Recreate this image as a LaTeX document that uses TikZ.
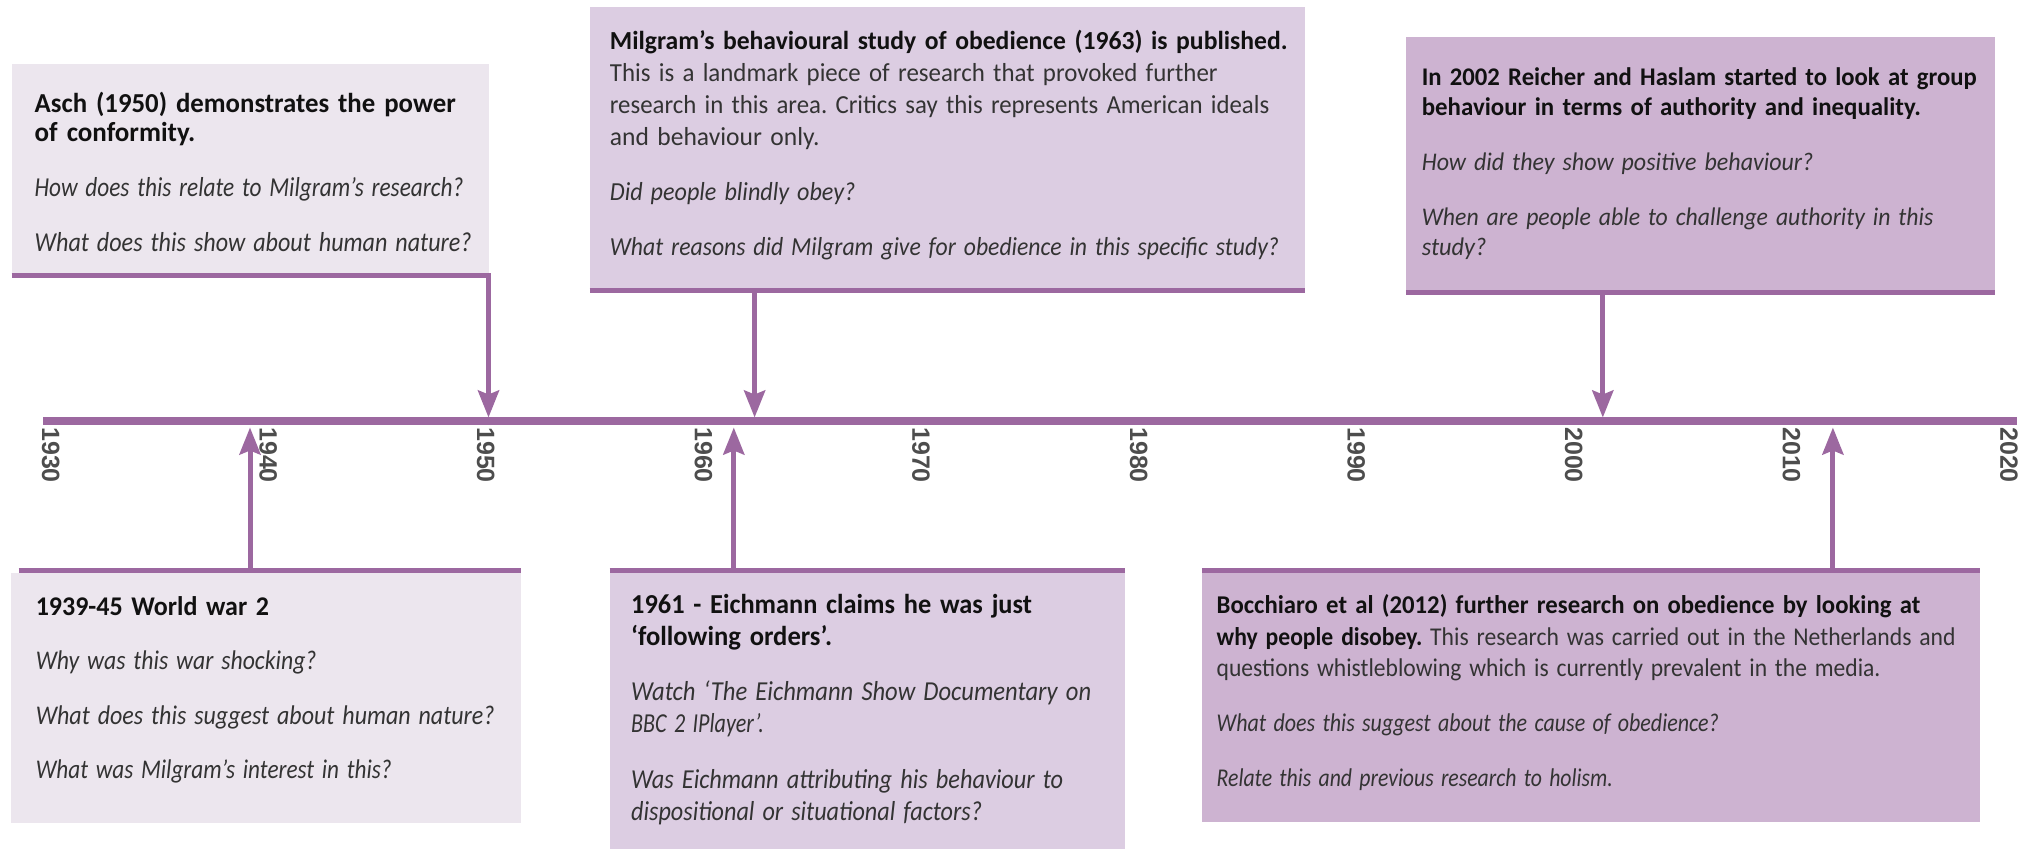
\documentclass[tikz,border=0pt]{standalone}
\usepackage{fontspec}
\usepackage{graphicx}
\setmainfont{Carlito}
\newfontfamily\yearfont{Liberation Sans}
\frenchspacing
\usetikzlibrary{arrows.meta}
\definecolor{tlc}{HTML}{9C68A0}
\definecolor{fillA}{HTML}{ECE6EE}
\definecolor{fillB}{HTML}{DCCDE2}
\definecolor{fillC}{HTML}{CDB3D1}
\definecolor{bodyc}{HTML}{333333}
\definecolor{headc}{HTML}{111111}
\definecolor{yearc}{HTML}{4D4D4D}
\newcommand\hd[1]{{\color{headc}\bfseries #1}}
% one line of text, fitted to the width it has in the reference
\newcommand\fl[2]{\resizebox{#1pt}{\height}{#2}}
\lineskiplimit=-100pt
\tikzset{
  tline/.style={draw=tlc, line width=7.3pt},
  edge/.style={draw=tlc, line width=5.5pt},
  conn/.style={draw=tlc, line width=5pt, -{Stealth[length=27pt,width=21pt,inset=4pt]}},
  evbox/.style={draw=none, inner sep=0pt, outer sep=0pt, anchor=north west},
  txt/.style={inner sep=0pt, anchor=base west, align=left, text width=900pt, text=bodyc},
  yr/.style={inner sep=0pt, anchor=base west, rotate=-90, text=yearc, font=\yearfont\bfseries\fontsize{25}{30}\selectfont},
}
\begin{document}
\begin{tikzpicture}[x=1pt,y=-1pt]
\useasboundingbox (0,0) rectangle (2033,849);

% boxes
\node[evbox, fill=fillA, minimum width=477.5pt, minimum height=209pt] (aschbox) at (11.5,64) {};
\node[evbox, fill=fillB, minimum width=715.4pt, minimum height=281pt] (milbox) at (589.6,7) {};
\node[evbox, fill=fillC, minimum width=588.9pt, minimum height=252.7pt] (reibox) at (1405.8,37.3) {};
\node[evbox, fill=fillA, minimum width=510pt, minimum height=249.7pt] (wwbox) at (11,573) {};
\node[evbox, fill=fillB, minimum width=515.1pt, minimum height=276pt] (eicbox) at (609.5,573) {};
\node[evbox, fill=fillC, minimum width=778pt, minimum height=248.7pt] (bocbox) at (1201.8,573) {};

% box edges
\draw[edge] (11.5,275.5) -- (491,275.5);
\draw[edge] (589.6,290.5) -- (1305,290.5);
\draw[edge] (1405.8,292.5) -- (1994.7,292.5);
\draw[edge] (18.6,570.5) -- (521,570.5);
\draw[edge] (609.5,570.5) -- (1124.6,570.5);
\draw[edge] (1201.8,570.5) -- (1979.8,570.5);

% timeline
\coordinate (tlstart) at (43,421);
\coordinate (tlend) at (2017,421);
\draw[tline] (tlstart) -- (tlend);

% connector coordinates
\coordinate (aschA) at (488.5,275.5);  \coordinate (aschB) at (488.5,417.5);
\coordinate (milA) at (754.6,290.5);   \coordinate (milB) at (754.6,417.5);
\coordinate (reiA) at (1602.8,292.5);  \coordinate (reiB) at (1602.8,417.5);
\coordinate (wwA) at (250,570.5);      \coordinate (wwB) at (250,427.5);
\coordinate (eicA) at (733.8,570.5);   \coordinate (eicB) at (733.8,427.5);
\coordinate (bocA) at (1832.9,570.5);  \coordinate (bocB) at (1832.9,427.5);
\draw[conn] (aschA) -- (aschB);
\draw[conn] (milA) -- (milB);
\draw[conn] (reiA) -- (reiB);
\draw[conn] (wwA) -- (wwB);
\draw[conn] (eicA) -- (eicB);
\draw[conn] (bocA) -- (bocB);

% years
\node[yr] (y1930) at (42,427) {1930};
\node[yr] (y1940) at (259.6,427) {1940};
\node[yr] (y1950) at (477.2,427) {1950};
\node[yr] (y1960) at (694.8,427) {1960};
\node[yr] (y1970) at (912.4,427) {1970};
\node[yr] (y1980) at (1130,427) {1980};
\node[yr] (y1990) at (1347.6,427) {1990};
\node[yr] (y2000) at (1565.2,427) {2000};
\node[yr] (y2010) at (1782.8,427) {2010};
\node[yr] (y2020) at (2000.4,427) {2020};

% texts
\node[txt, font=\fontsize{27.4}{29.7}\selectfont] (aschtxt) at (34.5,112)
{\fl{421}{\hd{Asch (1950) demonstrates the power}}\\
\fl{160.7}{\hd{of conformity.}}\\[25.3pt]
\fl{428.6}{\itshape How does this relate to Milgram’s research?}\\[25.3pt]
\fl{437}{\itshape What does this show about human nature?}};

\node[txt, font=\fontsize{26}{31.9}\selectfont] (miltxt) at (609.7,49.3)
{\fl{677.5}{\hd{Milgram’s behavioural study of obedience (1963) is published.}}\\
\fl{607.7}{This is a landmark piece of research that provoked further}\\
\fl{659.3}{research in this area. Critics say this represents American ideals}\\
\fl{209.6}{and behaviour only.}\\[23.1pt]
\fl{245.5}{\itshape Did people blindly obey?}\\[23.1pt]
\fl{669}{\itshape What reasons did Milgram give for obedience in this specific study?}};

\node[txt, font=\fontsize{25.4}{30}\selectfont] (reitxt) at (1421.6,85)
{\fl{554.8}{\hd{In 2002 Reicher and Haslam started to look at group}}\\
\fl{499}{\hd{behaviour in terms of authority and inequality.}}\\[25pt]
\fl{391.5}{\itshape How did they show positive behaviour?}\\[25pt]
\fl{511.5}{\itshape When are people able to challenge authority in this}\\
\fl{64.6}{\itshape study?}};

\node[txt, font=\fontsize{27}{30}\selectfont] (wwtxt) at (35.6,615)
{\fl{233.3}{\hd{1939-45 World war 2}}\\[24.5pt]
\fl{280.7}{\itshape Why was this war shocking?}\\[24.5pt]
\fl{458.7}{\itshape What does this suggest about human nature?}\\[24.5pt]
\fl{355.9}{\itshape What was Milgram’s interest in this?}};

\node[txt, font=\fontsize{27.4}{32}\selectfont] (eictxt) at (631,613)
{\fl{400.7}{\hd{1961 - Eichmann claims he was just}}\\
\fl{200.9}{\hd{‘following orders’.}}\\[23pt]
\fl{460}{\itshape Watch ‘The Eichmann Show Documentary on}\\
\fl{132.8}{\itshape BBC 2 IPlayer’.}\\[24pt]
\fl{432.1}{\itshape Was Eichmann attributing his behaviour to}\\
\fl{350.9}{\itshape dispositional or situational factors?}};

\node[txt, font=\fontsize{25.6}{31.7}\selectfont] (boctxt) at (1216.5,613.3)
{\fl{703.5}{\hd{Bocchiaro et al (2012) further research on obedience by looking at}}\\
\fl{738.8}{\hd{why people disobey.} This research was carried out in the Netherlands and}\\
\fl{663.8}{questions whistleblowing which is currently prevalent in the media.}\\[23.3pt]
\fl{502.2}{\itshape What does this suggest about the cause of obedience?}\\[23.3pt]
\fl{396.1}{\itshape Relate this and previous research to holism.}};
\end{tikzpicture}
\end{document}
